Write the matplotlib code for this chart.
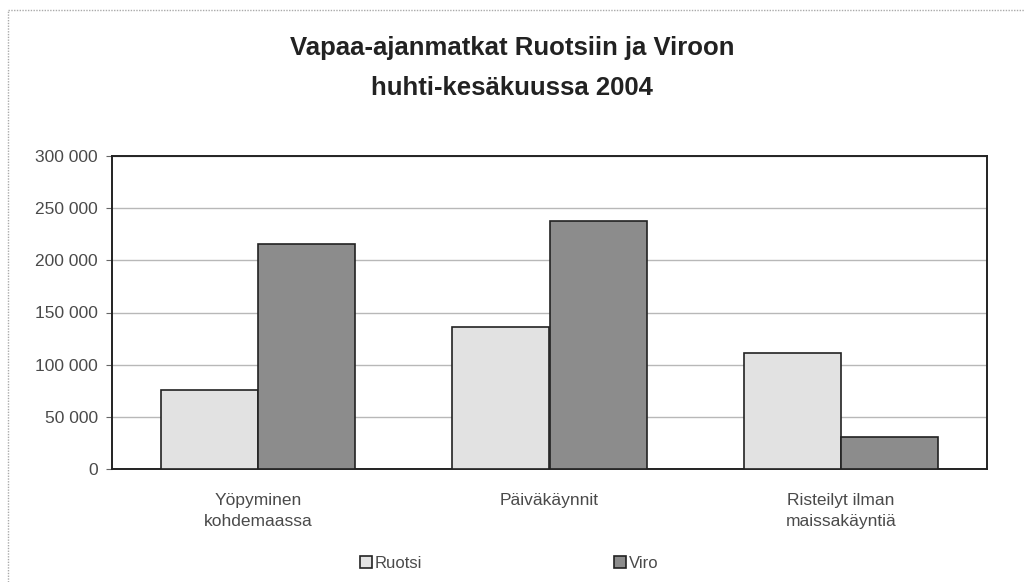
import matplotlib.pyplot as plt
import numpy as np
from matplotlib.lines import Line2D

categories = ['Yöpyminen\nkohdemaassa', 'Päiväkäynnit', 'Risteilyt ilman\nmaissakäyntiä']
ruotsi = [76000, 136000, 111000]
viro = [216000, 238000, 31000]
series_names = ['Ruotsi', 'Viro']
yticks = [0, 50000, 100000, 150000, 200000, 250000, 300000]

plt.rcParams['font.family'] = ['Liberation Sans', 'DejaVu Sans']

fig = plt.figure(figsize=(10.24, 5.82), dpi=100)
ax = fig.add_axes([112 / 1024, 1 - 469 / 582, 875 / 1024, 313 / 582])

x = np.arange(len(categories))
w = 1 / 3
ax.bar(x - w / 2, ruotsi, w, color='#e2e2e2', edgecolor='#222222', linewidth=1.2,
       label=series_names[0], zorder=3)
ax.bar(x + w / 2, viro, w, color='#8c8c8c', edgecolor='#222222', linewidth=1.2,
       label=series_names[1], zorder=3)

ax.set_xlim(-0.5, len(categories) - 0.5)
ax.set_ylim(0, 300000)
ax.set_yticks(yticks)
ax.set_yticklabels([f'{v:,}'.replace(',', ' ') for v in yticks])
ax.yaxis.grid(True, color='#b8b8b8', linewidth=1, zorder=0)
ax.set_xticks(x)
ax.set_xticklabels(categories, color='#4a4a4a', fontsize=12.5, linespacing=1.5)
ax.tick_params(axis='x', length=0, pad=17)
ax.tick_params(axis='y', length=4, color='#666666', labelcolor='#4a4a4a',
               labelsize=12.5, pad=6)
for s in ax.spines.values():
    s.set_color('#222222')
    s.set_linewidth(1.4)

fig.text(0.5, 1 - 48 / 582, 'Vapaa-ajanmatkat Ruotsiin ja Viroon', ha='center',
         va='center', fontsize=18.5, fontweight='bold', color='#222222')
fig.text(0.5, 1 - 88 / 582, 'huhti-kesäkuussa 2004', ha='center',
         va='center', fontsize=18.5, fontweight='bold', color='#222222')

leg = fig.legend(loc='center', bbox_to_anchor=(0.497, 1 - 563 / 582), ncol=2,
                 frameon=False, fontsize=12, handlelength=0.75, handleheight=0.75,
                 handletextpad=0.15, columnspacing=11.5)
for t in leg.get_texts():
    t.set_color('#4a4a4a')

# dotted chart-area border (top and left visible)
fig.add_artist(Line2D([8 / 1024, 1.0], [1 - 10 / 582] * 2, color='#aaaaaa',
                      linewidth=1, linestyle=(0, (1, 1))))
fig.add_artist(Line2D([8 / 1024] * 2, [0.0, 1 - 10 / 582], color='#aaaaaa',
                      linewidth=1, linestyle=(0, (1, 1))))

fig.savefig('out.png', dpi=100)
